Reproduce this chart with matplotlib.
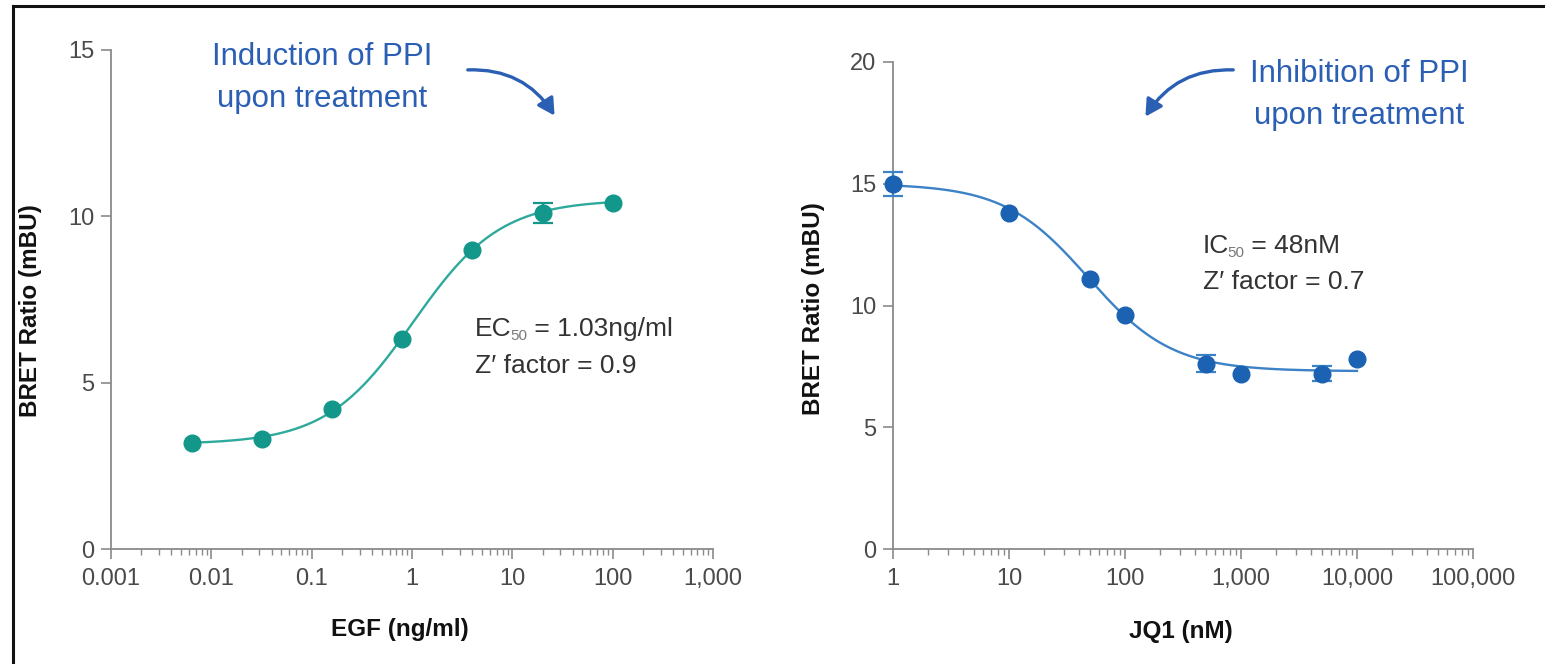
import numpy as np
import matplotlib
matplotlib.use("Agg")
import matplotlib.pyplot as plt
from matplotlib.ticker import FixedLocator, LogLocator, NullFormatter
from matplotlib.lines import Line2D
from matplotlib.patches import FancyArrowPatch
from matplotlib.transforms import offset_copy

# ---------------- data ----------------
egf_conc = [0.0064, 0.032, 0.16, 0.8, 4, 20, 100]
egf_bret = [3.2, 3.3, 4.2, 6.3, 9.0, 10.1, 10.4]
egf_err = [0.0, 0.0, 0.0, 0.0, 0.0, 0.3, 0.0]
egf_fit = dict(bottom=3.15, top=10.5, ec50=1.03, hill=1.0)
egf_ticks = [0.001, 0.01, 0.1, 1, 10, 100, 1000]
egf_ticklabels = ["0.001", "0.01", "0.1", "1", "10", "100", "1,000"]
egf_yticks = [0, 5, 10, 15]

jq1_conc = [1, 10, 50, 100, 500, 1000, 5000, 10000]
jq1_bret = [15.0, 13.8, 11.1, 9.6, 7.6, 7.2, 7.2, 7.8]
jq1_err = [0.5, 0.0, 0.0, 0.0, 0.35, 0.0, 0.3, 0.0]
jq1_fit = dict(bottom=7.3, top=15.0, ec50=48.0, hill=1.2)
jq1_ticks = [1, 10, 100, 1000, 10000, 100000]
jq1_ticklabels = ["1", "10", "100", "1,000", "10,000", "100,000"]
jq1_yticks = [0, 5, 10, 15, 20]


def four_pl(x, bottom, top, ec50, hill):
    return bottom + (top - bottom) / (1.0 + (ec50 / x) ** hill)


W, H = 1545, 664
fig = plt.figure(figsize=(W / 100, H / 100), dpi=100)
fig.patch.set_facecolor("white")

SANS = ["Liberation Sans", "DejaVu Sans"]
spine_col = "#8a8a8a"
tick_lab_col = "#4a4a4a"


def px_axes(x0, x1, y_top, y_bot):
    return fig.add_axes([x0 / W, (H - y_bot) / H, (x1 - x0) / W, (y_bot - y_top) / H])


def style_axes(ax, xt, xtl, yt, xmin, xmax, ymax):
    ax.set_xscale("log")
    ax.set_xlim(xmin, xmax)
    ax.set_ylim(0, ymax)
    for s in ["top", "right"]:
        ax.spines[s].set_visible(False)
    for s in ["left", "bottom"]:
        ax.spines[s].set_color(spine_col)
        ax.spines[s].set_linewidth(1.3)
    ax.xaxis.set_major_locator(FixedLocator(xt))
    ax.set_xticklabels(xtl)
    ax.xaxis.set_minor_locator(LogLocator(base=10, subs=np.arange(2, 10)))
    ax.xaxis.set_minor_formatter(NullFormatter())
    ax.set_yticks(yt)
    ax.set_yticklabels([str(v) for v in yt])
    ax.tick_params(axis="both", which="major", direction="out", length=7, width=1.2,
                   color=spine_col, labelsize=17, labelcolor=tick_lab_col, pad=5)
    ax.tick_params(axis="x", which="major", pad=7)
    ax.tick_params(axis="x", which="minor", direction="out", length=4, width=1.0, color=spine_col)
    for lab in ax.get_xticklabels() + ax.get_yticklabels():
        lab.set_family(SANS)
    ax.patch.set_alpha(0)


def draw_points(ax, conc, bret, err, mcol, ecol):
    conc = np.asarray(conc, float)
    bret = np.asarray(bret, float)
    err = np.asarray(err, float)
    m = err > 0
    ax.errorbar(conc[m], bret[m], yerr=err[m], fmt="none", ecolor=ecol, elinewidth=1.6,
                capsize=7, capthick=1.6, zorder=3, clip_on=False)
    ax.plot(conc, bret, "o", color=mcol, ms=12, zorder=4, clip_on=False)


# ---------------- left panel ----------------
axL = px_axes(111, 713, 50, 549)
style_axes(axL, egf_ticks, egf_ticklabels, egf_yticks, 0.001, 1000, 15)
teal = "#12978a"
teal_line = "#2fa99b"
xs = np.logspace(np.log10(egf_conc[0]), np.log10(egf_conc[-1]), 300)
axL.plot(xs, four_pl(xs, **egf_fit), color=teal_line, lw=1.7, zorder=2)
draw_points(axL, egf_conc, egf_bret, egf_err, teal, teal)
axL.set_xlabel("EGF (ng/ml)", fontsize=17.5, fontweight="bold", family=SANS, color="#111111")
axL.set_ylabel("BRET Ratio (mBU)", fontsize=17.5, fontweight="bold", family=SANS, color="#111111")
axL.xaxis.set_label_coords(0.48, -0.138)
axL.yaxis.set_label_coords(-0.114, 0.477)

# ---------------- right panel ----------------
axR = px_axes(893, 1473, 62, 549)
style_axes(axR, jq1_ticks, jq1_ticklabels, jq1_yticks, 1, 100000, 20)
blue = "#1b62b2"
blue_line = "#3c82c6"
xs = np.logspace(np.log10(jq1_conc[0]), np.log10(jq1_conc[-1]), 300)
f = jq1_fit
axR.plot(xs, f["top"] - (f["top"] - f["bottom"]) / (1.0 + (f["ec50"] / xs) ** f["hill"]),
         color=blue_line, lw=1.7, zorder=2)
draw_points(axR, jq1_conc, jq1_bret, jq1_err, blue, blue_line)
axR.set_xlabel("JQ1 (nM)", fontsize=17.5, fontweight="bold", family=SANS, color="#111111")
axR.set_ylabel("BRET Ratio (mBU)", fontsize=17.5, fontweight="bold", family=SANS, color="#111111")
axR.xaxis.set_label_coords(0.496, -0.146)
axR.yaxis.set_label_coords(-0.118, 0.493)

# ---------------- stats text ----------------
stat_col = "#333333"
sub_col = "#7a7a7a"
STAT_FS = 19
renderer = fig.canvas.get_renderer()


def sub_text(x_px, y_px, main, sub, rest):
    t1 = fig.text(x_px / W, 1 - y_px / H, main, fontsize=STAT_FS, family=SANS,
                  color=stat_col, va="baseline", ha="left")
    w1 = t1.get_window_extent(renderer).width
    tr = offset_copy(fig.transFigure, fig=fig, x=w1 - 1.5, y=-4, units="dots")
    t2 = fig.text(x_px / W, 1 - y_px / H, sub, fontsize=STAT_FS * 0.58, family=SANS,
                  color=sub_col, va="baseline", ha="left", transform=tr)
    w2 = t2.get_window_extent(renderer).width
    tr3 = offset_copy(fig.transFigure, fig=fig, x=w1 + w2 - 2, y=0, units="dots")
    fig.text(x_px / W, 1 - y_px / H, rest, fontsize=STAT_FS, family=SANS,
             color=stat_col, va="baseline", ha="left", transform=tr3)


sub_text(475, 336, "EC", "50", " = 1.03ng/ml")
fig.text(475 / W, 1 - 366 / H, "Z\u2032 factor = 0.9", fontsize=STAT_FS,
         family=SANS, color=stat_col, va="center", ha="left")
sub_text(1203, 253, "IC", "50", " = 48nM")
fig.text(1203 / W, 1 - 282 / H, "Z\u2032 factor = 0.7", fontsize=STAT_FS,
         family=SANS, color=stat_col, va="center", ha="left")

# ---------------- handwritten annotations ----------------
ann_col = "#2b5fb4"
ANN_FS = 22.5
fig.text(322 / W, 1 - 57 / H, "Induction of PPI", fontsize=ANN_FS, family=SANS,
         color=ann_col, ha="center", va="center")
fig.text(322 / W, 1 - 99 / H, "upon treatment", fontsize=ANN_FS, family=SANS,
         color=ann_col, ha="center", va="center")
fig.text(1359 / W, 1 - 74 / H, "Inhibition of PPI", fontsize=ANN_FS, family=SANS,
         color=ann_col, ha="center", va="center")
fig.text(1359 / W, 1 - 116 / H, "upon treatment", fontsize=ANN_FS, family=SANS,
         color=ann_col, ha="center", va="center")

arr1 = FancyArrowPatch((465 / W, 1 - 70 / H), (556 / W, 1 - 118 / H), transform=fig.transFigure,
                       connectionstyle="arc3,rad=-0.3", arrowstyle="-|>,head_length=10,head_width=5.5",
                       color=ann_col, lw=2.4)
arr2 = FancyArrowPatch((1236 / W, 1 - 70 / H), (1144 / W, 1 - 119 / H), transform=fig.transFigure,
                       connectionstyle="arc3,rad=0.3", arrowstyle="-|>,head_length=10,head_width=5.5",
                       color=ann_col, lw=2.4)
fig.patches.extend([arr1, arr2])

# ---------------- frame lines ----------------
fig.add_artist(Line2D([13 / W, 1.0], [1 - 6 / H, 1 - 6 / H], transform=fig.transFigure,
                      color="#111111", lw=2.2))
fig.add_artist(Line2D([13 / W, 13 / W], [0, 1 - 6 / H], transform=fig.transFigure,
                      color="#111111", lw=2.2))

fig.savefig("out.png", dpi=100, facecolor="white")
